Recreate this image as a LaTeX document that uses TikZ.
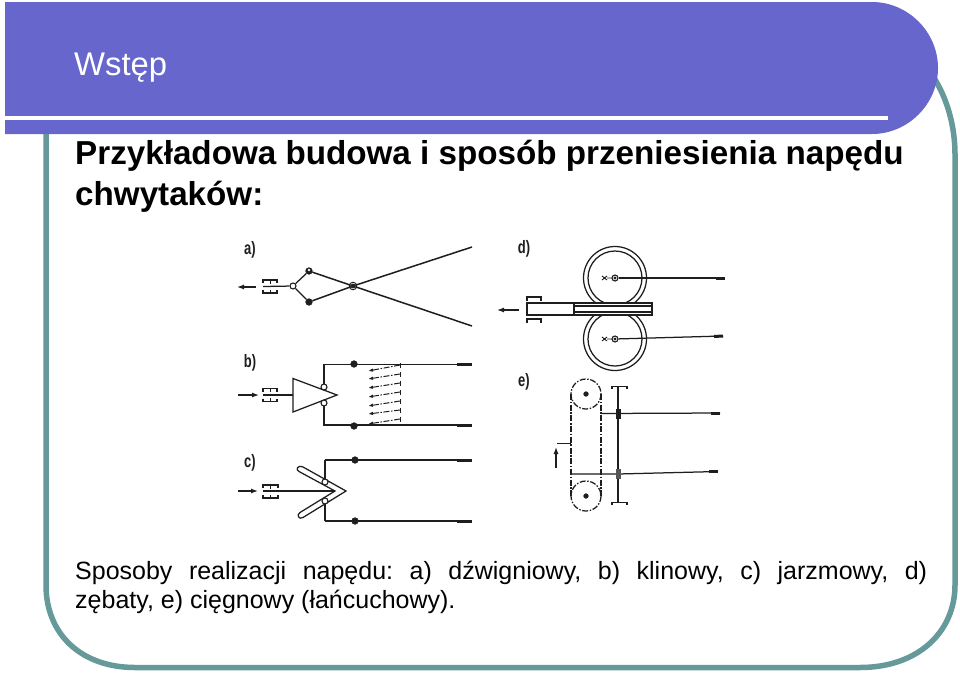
\documentclass[tikz,border=0pt]{standalone}
\usepackage{fontspec}
\usepackage{graphicx}
\setmainfont{Liberation Sans}
\frenchspacing
\usetikzlibrary{arrows.meta}
\definecolor{hdr}{RGB}{102,102,204}
\definecolor{teal2}{RGB}{102,153,153}
\definecolor{ink}{RGB}{30,30,30}
\newcommand{\bearingmark}[3]{%
  \draw[ink,line width=1.1] (#1,#3-3.5)--(#1,#3-6.5)--(#2,#3-6.5)--(#2,#3-3.5);
  \draw[ink,line width=1.1] (#1,#3+3.5)--(#1,#3+6.5)--(#2,#3+6.5)--(#2,#3+3.5);
  \draw[ink,line width=.8] ({(#1+#2)/2},#3-6.5)--({(#1+#2)/2},#3-3) ({(#1+#2)/2},#3+6.5)--({(#1+#2)/2},#3+3);
}
\newcommand{\figlabel}[1]{\scalebox{0.72}[1]{#1}}
\tikzset{
  mech/.style={ink,line width=1.25},
  endbar/.style={ink,line width=3},
  chainline/.style={ink,line width=1.25,dash pattern=on 6pt off 1.6pt on 1.5pt off 1.6pt},
  flow/.style={ink,line width=1.25,-{Latex[length=7pt,width=5pt]}},
  openpin/.style={circle,draw=ink,fill=white,line width=1.1,inner sep=0,minimum size=6pt},
  fullpin/.style={circle,draw=ink,fill=ink,line width=.7,inner sep=0,minimum size=6.5pt},
  fig/.style={font=\fontsize{18}{20}\selectfont\bfseries,ink,inner sep=0},
  free/.style={inner sep=0,outer sep=0,minimum size=0},
  txt/.style={anchor=base west,inner sep=0},
}
\begin{document}
\begin{tikzpicture}[x=1pt,y=-1pt]
\useasboundingbox (0,0) rectangle (960,672);
\fill[white] (0,0) rectangle (960,672);
% frame
\draw[teal2,line width=5.5] (46,125) -- (46,585)
  .. controls (46,635) and (82,667.5) .. (135,667.5)
  -- (860,667.5)
  .. controls (918,667.5) and (955,632) .. (955,585)
  -- (955,155)
  .. controls (955,122) and (945,90) .. (925,65);
% header
\fill[hdr] (5,2) -- (872,2) .. controls (908,2) and (938,32) .. (938,68)
  .. controls (938,104) and (908,134) .. (872,134) -- (5,134) -- cycle;
\fill[white] (5,116) rectangle (888,120);
\node[txt,white,font=\fontsize{32.8}{36}\selectfont] (title) at (74,75) {Wstęp};
\node[txt,font=\fontsize{33.2}{36}\selectfont\bfseries] (h1) at (75,164) {\scalebox{.8}[.8]{\fontsize{41.5}{44}\selectfont Przykładowa budowa i sposób przeniesienia napędu}};
\node[txt,font=\fontsize{33.2}{36}\selectfont\bfseries] (h2) at (75,205) {chwytaków:};
\node[txt,font=\fontsize{25}{28}\selectfont] (b1) at (75,579) {\makebox[852pt][s]{Sposoby realizacji napędu: a) dźwigniowy, b) klinowy, c) jarzmowy, d)}};
\node[txt,font=\fontsize{25}{28}\selectfont] (b2) at (75,608) {zębaty, e) cięgnowy (łańcuchowy).};
% labels
\node[fig] (la) at (250,250) {\figlabel{a)}};
\node[fig] (lb) at (250,363) {\figlabel{b)}};
\node[fig] (lc) at (250,463) {\figlabel{c)}};
\node[fig] (ld) at (524,249) {\figlabel{d)}};
\node[fig] (le) at (524,382) {\figlabel{e)}};
% a
\coordinate (aL) at (256,287); \coordinate (aA) at (237,287);
\draw[flow] (aL)--(aA);
\bearingmark{263}{277}{286.5}
\node[openpin] (a0) at (293,286) {};
\node[fullpin] (a1) at (309,271) {};
\node[fullpin] (a2) at (309,302) {};
\node[fullpin,minimum size=4pt] (a3) at (353,286) {};
\coordinate (a4) at (472,247); \coordinate (a5) at (472,326); \coordinate (a6) at (263,286.5);
\draw[mech] (a6)--(a0);
\draw[mech] (a0)--(a1); \draw[mech] (a0)--(a2);
\draw[mech,line width=1.5] (a1)--(a3)--(a5);
\draw[mech,line width=1.5] (a2)--(a3)--(a4);
\draw[ink,line width=.9] (353,286) circle (3.8);
\fill[white] (309,270) circle (1.4);
% b
\coordinate (bS) at (238,395); \coordinate (bE) at (259,395);
\draw[flow] (bS)--(bE);
\bearingmark{263}{277}{395}
\node[free] (bT) at (293,395) {};
\draw[mech] (263,395)--(bT);
\draw[mech,fill=white] (293,378.5)--(337,395)--(293,412)--cycle;
\node[fullpin] (b3) at (354,364) {};
\node[fullpin] (b4) at (354,426) {};
\coordinate (b5) at (472,364.5); \coordinate (b6) at (472,425);
\draw[mech] (324,387)--(324,364.5)--(b5);
\draw[mech] (324,403)--(324,425)--(b6);
\draw[endbar] (457,364.5)--(b5); \draw[endbar] (457,425)--(b6);
\node[openpin] (b1p) at (324,387) {};
\node[openpin] (b2p) at (324,403) {};
\foreach \ya/\yb in {365/371,374/379,383/388,392/397,401/406,410/414,419/424}{
  \draw[chainline,line width=1,-{Latex[length=5pt,width=3.5pt]}] (400,\ya)--(368,\yb);
  \draw[ink,line width=.9] (400,\ya-2.5)--(400,\ya+2.5);
}
% c
\coordinate (cS) at (238,491); \coordinate (cE) at (258,491);
\draw[flow] (cS)--(cE);
\bearingmark{263}{278}{491.5}
\coordinate (c1) at (263,491); \coordinate (c2) at (335,491);
\draw[mech] (325,460)--(325,482);
\draw[mech] (325,501)--(325,521);
\draw[mech,fill=white] (346,491)--(303,467) .. controls (297,464.5) and (295.5,470) .. (299,471.5)
  --(335,491)--(300,512.5) .. controls (296,515) and (299,520) .. (303,517.5) --cycle;
\draw[mech] (c1)--(c2);
\coordinate (c3) at (472,460); \coordinate (c4) at (472,521);
\draw[mech] (325,460)--(c3); \draw[mech] (325,521)--(c4);
\draw[endbar] (457,460)--(c3); \draw[endbar] (457,521)--(c4);
\node[fullpin] (c5) at (355,460) {};
\node[fullpin] (c6) at (355,521) {};
\node[openpin] (c7) at (325,482) {};
\node[openpin] (c8) at (325,501) {};
% d
\draw[mech,fill=white] (615,278) circle (31.5);
\draw[mech,fill=white] (615,339) circle (31.5);
\draw[mech] (615,278) circle (27);
\draw[mech] (615,339) circle (27);
\draw[mech,fill=white] (527,303) rectangle (574,315);
\draw[mech,fill=white] (574,303) rectangle (652,315);
\draw[mech] (574,306)--(652,306); \draw[mech] (574,312)--(652,312);
\draw[mech,line width=1.7] (527,303)--(574,303);
\draw[ink,line width=1.5] (527,301)--(527,297)--(541,297)--(541,301);
\draw[ink,line width=1.1] (527,323)--(527,319)--(541,319)--(541,323);
\coordinate (dS) at (519,310); \coordinate (dE) at (497,310);
\draw[flow] (dS)--(dE);
\node[openpin,minimum size=6pt] (d1) at (615,278) {};
\node[openpin,minimum size=6pt] (d2) at (615,339) {};
\fill[ink] (615,278) circle (1.6) (615,339) circle (1.6);
\coordinate (d3) at (725,278); \coordinate (d4) at (723,336);
\draw[mech] (d1)--(d3); \draw[mech] (d2)--(d4);
\draw[endbar] (716,278)--(d3); \draw[endbar] (714,336.5)--(d4);
\draw[ink,line width=.9] (602,276)--(607,280) (602,280)--(607,276) (607,278)--(612,278)
  (602,337)--(607,341) (602,341)--(607,337) (607,339)--(612,339);
% e
\draw[chainline] (586,394) circle (15);
\node[fullpin,minimum size=4.5pt] (e1) at (586,394) {};
\draw[chainline] (586,496) circle (15);
\node[fullpin,minimum size=4.5pt] (e2) at (586,496) {};
\draw[chainline] (571,394)--(571,496);
\draw[chainline] (601,394)--(601,496);
\coordinate (e3) at (720,413); \coordinate (e4) at (718,471.5);
\draw[mech] (601,413.5)--(e3);
\draw[mech] (571,474)--(618,474)--(e4);
\draw[endbar] (711,413)--(e3); \draw[endbar] (709,471.5)--(e4);
\draw[mech,line width=1.5] (618,387)--(618,503);
\draw[ink,line width=1.5] (612,389)--(612,386.5)--(627,386.5)--(627,389);
\draw[ink,line width=1.5] (612,505)--(612,502.5)--(627,502.5)--(627,505);
\fill[ink] (616,408.5) rectangle (620.5,418.5);
\fill[ink!75] (616,469) rectangle (620.5,479);
\draw[mech] (557,443.5)--(571,443.5);
\coordinate (eS) at (556,468); \coordinate (eE) at (556,447);
\draw[flow] (eS)--(eE);
\end{tikzpicture}
\end{document}
